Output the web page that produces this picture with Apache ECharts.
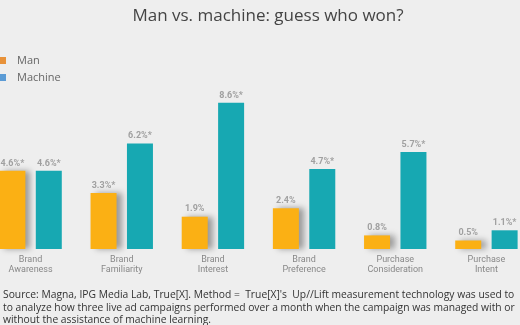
<!DOCTYPE html>
<html>
<head>
<meta charset="utf-8">
<script src="https://cdn.jsdelivr.net/npm/echarts@6/dist/echarts.min.js"></script>
<style>
html,body{margin:0;padding:0;background:#eeeeee;overflow:hidden;width:520px;height:325px;}
#c{position:absolute;left:-15px;top:0;width:547px;height:325px;}
</style>
</head>
<body>
<div id="c"></div>
<script>
const categories = ["Brand\nAwareness","Brand\nFamiliarity","Brand\nInterest","Brand\nPreference","Purchase\nConsideration","Purchase\nIntent"];
const manValues = [4.6, 3.3, 1.9, 2.4, 0.8, 0.5];
const machineValues = [4.6, 6.2, 8.6, 4.7, 5.7, 1.1];
const manLabels = ["4.6%*","3.3%*","1.9%","2.4%","0.8%","0.5%"];
const machineLabels = ["4.6%*","6.2%*","8.6%*","4.7%*","5.7%*","1.1%*"];
const sourceText = "Source: Magna, IPG Media Lab, True[X]. Method =  True[X]'s  Up//Lift measurement technology was used to\nto analyze how three live ad campaigns performed over a month when the campaign was managed with or\nwithout the assistance of machine learning.";

const chart = echarts.init(document.getElementById('c'));
const labelStyle = {show:true, position:'top', distance:3, color:'#a0a0a0', fontSize:9, fontWeight:'bold', fontFamily:'Roboto'};
chart.setOption({
  backgroundColor:'#eeeeee',
  animation:false,
  title:{
    text:'Man vs. machine: guess who won?',
    left:278, top:3, textAlign:'center',
    textStyle:{fontFamily:'Open Sans', fontSize:17, fontWeight:'normal', color:'#444'}
  },
  legend:{
    orient:'vertical', left:14, top:55, itemWidth:7, itemHeight:7, itemGap:6,
    icon:'rect', padding:0,
    textStyle:{fontFamily:'Open Sans', fontSize:11, color:'#666', padding:[0,0,0,6]},
    data:[{name:'Man', itemStyle:{color:'#E8923A'}},{name:'Machine', itemStyle:{color:'#5B9BD5'}}]
  },
  grid:{left:0, right:0, top:79, bottom:76},
  xAxis:{
    type:'category', data:categories,
    axisLine:{show:false}, axisTick:{show:false},
    axisLabel:{color:'#888', fontSize:9, fontFamily:'Roboto', lineHeight:10, margin:6, interval:0}
  },
  yAxis:{type:'value', min:0, max:10, show:false, splitLine:{show:false}},
  series:[
    {name:'Man', type:'bar', data:manValues, barWidth:26, barGap:'40%',
     itemStyle:{color:'#FBB014', shadowColor:'rgba(0,0,0,0.35)', shadowBlur:6, shadowOffsetX:5, shadowOffsetY:0},
     label:Object.assign({}, labelStyle, {formatter:p=>manLabels[p.dataIndex]})},
    {name:'Machine', type:'bar', data:machineValues, barWidth:26,
     itemStyle:{color:'#17A8B2'},
     label:Object.assign({}, labelStyle, {formatter:p=>machineLabels[p.dataIndex]})}
  ],
  graphic:[{
    type:'text', left:18, top:289,
    style:{text:sourceText, fill:'#333', font:'10.3px "Open Sans"', lineHeight:12.5}
  }]
});
</script>
</body>
</html>
